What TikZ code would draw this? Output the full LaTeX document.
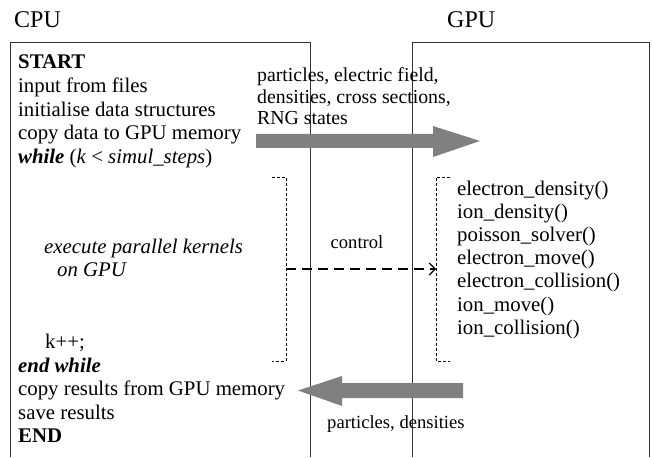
\documentclass[tikz,border=0pt]{standalone}
\usepackage{fontspec}
\setmainfont{Liberation Serif}
\usetikzlibrary{arrows.meta}
\definecolor{pipe}{HTML}{808080}
\definecolor{frame}{HTML}{333333}
\tikzset{
  txt/.style={anchor=base west, inner sep=0pt, font=\fontsize{20.8}{23.6}\selectfont, align=left},
  lbl/.style={anchor=base west, inner sep=0pt, font=\fontsize{18.6}{21.8}\selectfont, align=left},
  biglbl/.style={anchor=base west, inner sep=0pt, font=\fontsize{19.8}{21.8}\selectfont, align=left},
  title/.style={anchor=base west, inner sep=0pt, font=\fontsize{24}{28}\selectfont},
  frameline/.style={draw=frame, line width=1pt},
  bracket/.style={draw=black, line width=0.7pt, dash pattern=on 3pt off 2pt},
  ctrl/.style={draw=black, line width=1.2pt, dash pattern=on 10pt off 6pt},
  bigarrow/.style={fill=pipe, draw=none}
}
\begin{document}
\begin{tikzpicture}[x=1pt,y=-1pt]
\useasboundingbox (0,0) rectangle (652,457);

% titles
\node[title] (cpu) at (14,27.5) {CPU};
\node[title] (gpu) at (447,27.5) {GPU};

% CPU and GPU frames (open at the bottom)
\draw[frameline] (10,457) -- (10,43) -- (310,43) -- (310,457);
\draw[frameline] (412,457) -- (412,43) -- (649,43) -- (649,457);

% host program
\node[txt] (start) at (18,69) {\textbf{START}};
\node[txt] (input) at (18,92.6) {input from files};
\node[txt] (init) at (18,116.2) {initialise data structures};
\node[txt] (copyin) at (18,139.8) {copy data to GPU memory};
\node[txt] (while) at (18,163.4) {\textbf{\textit{while}} (\textit{k} < \textit{simul\_steps})};
\node[txt] (exec) at (44,253) {\textit{execute parallel kernels}};
\node[txt] (ongpu) at (57,276) {\textit{on GPU}};
\node[txt] (kinc) at (45,348) {k++;};
\node[txt] (endwhile) at (18,372) {\textbf{\textit{end while}}};
\node[txt] (copyout) at (18,395.6) {copy results from GPU memory};
\node[txt] (save) at (18,419.2) {save results};
\node[txt] (end) at (18,442.8) {\textbf{END}};

% device kernels
\node[txt] (k1) at (457,195) {electron\_density()};
\node[txt] (k2) at (457,218.2) {ion\_density()};
\node[txt] (k3) at (457,241.4) {poisson\_solver()};
\node[txt] (k4) at (457,264.6) {electron\_move()};
\node[txt] (k5) at (457,287.8) {electron\_collision()};
\node[txt] (k6) at (457,311) {ion\_move()};
\node[txt] (k7) at (457,334.2) {ion\_collision()};

% loop brackets
\coordinate (lb) at (286,269);
\coordinate (rb) at (436,269);
\draw[bracket] (272,177) -- (286,177) -- (286,361) -- (272,361);
\draw[bracket] (450,177) -- (436,177) -- (436,361) -- (450,361);

% control flow
\draw[ctrl, -{Straight Barb[length=6pt,width=12pt,line width=1.2pt]}] (lb) -- (rb);
\node[lbl, anchor=base] (ctl) at (357,248) {control};

% host -> device transfer
\coordinate (upstart) at (256,141);
\coordinate (uptip) at (480,141);
\fill[bigarrow] (upstart) ++(0,-7) -- (433,134) -- (433,126) -- (uptip) -- (433,157) -- (433,148) -- (256,148) -- cycle;
\node[biglbl] (uplab1) at (257,82) {particles, electric field,};
\node[biglbl] (uplab2) at (257,103.5) {densities, cross sections,};
\node[biglbl] (uplab3) at (257,125) {RNG states};

% device -> host transfer
\coordinate (dnstart) at (463,390.5);
\coordinate (dntip) at (298,390.5);
\fill[bigarrow] (dnstart) ++(0,-7.5) -- (342,383) -- (342,376) -- (dntip) -- (342,406) -- (342,398) -- (463,398) -- cycle;
\node[lbl] (dnlab) at (327,428) {particles, densities};
\end{tikzpicture}
\end{document}
